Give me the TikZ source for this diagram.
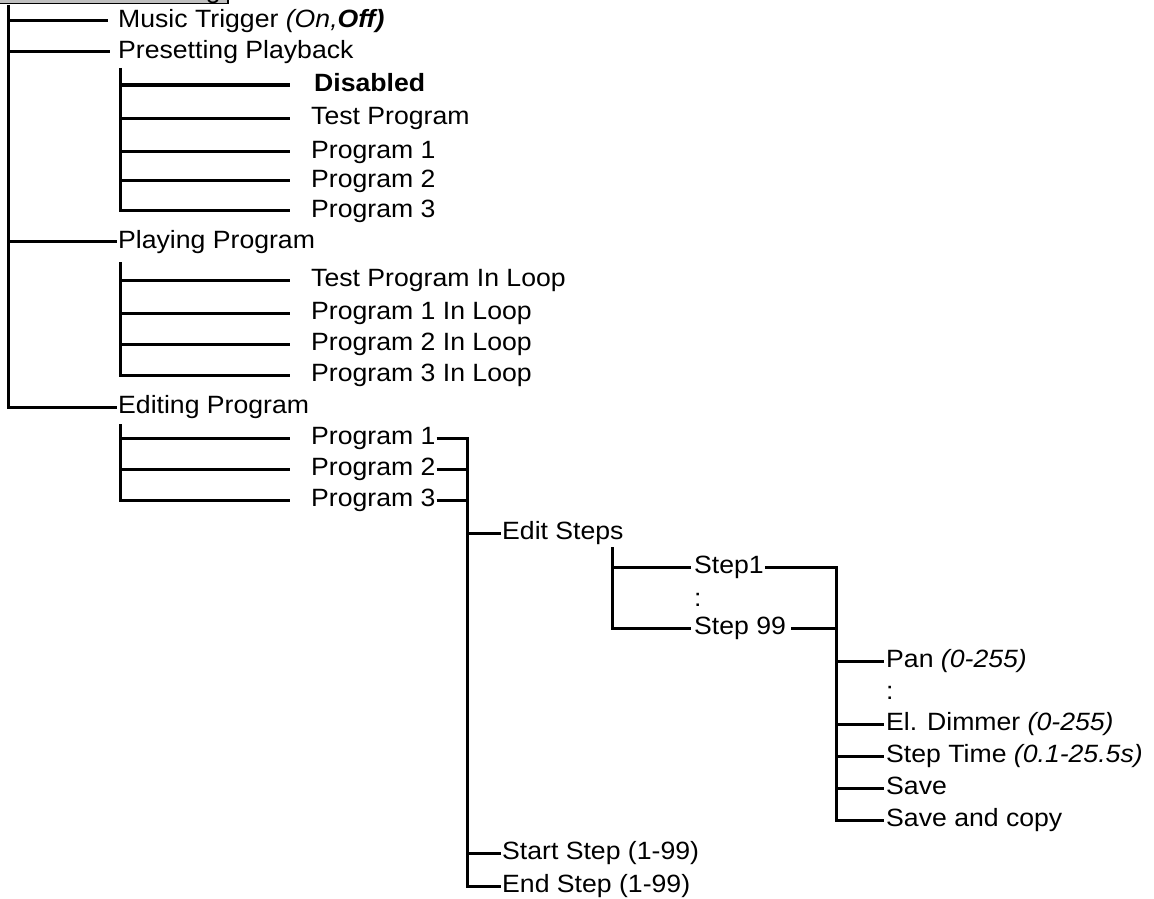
\documentclass[tikz,border=0pt]{standalone}
\usepackage{fontspec}
\setmainfont{Liberation Sans}[FakeStretch=1.065]
\begin{document}
\fontsize{25}{29}\selectfont
\begin{tikzpicture}[x=1pt,y=-1pt,
  lbl/.style={inner sep=0pt,anchor=mid west,font=\fontsize{25}{29}\selectfont},
  ln/.style={line width=3pt}]
\useasboundingbox (0,0) rectangle (1154,899);
% top (cut) header box
\draw[fill=black!25,line width=1.4pt] (-5,-40) rectangle (228,3.5);
\node[lbl,anchor=base east] (hdr) at (221,-1.5) {Setting};
% level 1
\node[lbl] (mt) at (118,20.7) {Music Trigger \textit{(On,\textbf{Off)}}};
\node[lbl] (pp) at (118,51.7) {Presetting Playback};
\node[lbl] (pl) at (118,241.7) {Playing Program};
\node[lbl] (ep) at (118,407) {Editing Program};
\coordinate (t0) at (8.5,5);
\draw[ln] (t0) |- ([xshift=-1pt]ep.mid west);
\draw[ln] (t0 |- mt.mid west) -- ([xshift=-10pt]mt.mid west);
\draw[ln] (t0 |- pp.mid west) -- ([xshift=-8pt]pp.mid west);
\draw[ln] (t0 |- pl.mid west) -- ([xshift=-1pt]pl.mid west);
% presetting children
\node[lbl] (dis) at (314,85) {\textbf{Disabled}};
\node[lbl] (tp) at (311,118.3) {Test Program};
\node[lbl] (pa1) at (311,151.7) {Program 1};
\node[lbl] (pa2) at (311,180.5) {Program 2};
\node[lbl] (pa3) at (311,210.7) {Program 3};
\coordinate (v1) at (120,68);
\draw[ln] (v1) |- ([xshift=-21pt]pa3.mid west);
\foreach \n in {tp,pa1,pa2}{\draw[ln] (v1 |- \n.mid west) -- ([xshift=-21pt]\n.mid west);}
\draw[ln] (v1 |- dis.mid west) -- ([xshift=-24pt]dis.mid west);
% playing children
\node[lbl] (lt) at (311,280) {Test Program In Loop};
\node[lbl] (l1) at (311,313) {Program 1 In Loop};
\node[lbl] (l2) at (311,344) {Program 2 In Loop};
\node[lbl] (l3) at (311,375) {Program 3 In Loop};
\coordinate (v2) at (120,262);
\draw[ln] (v2) |- ([xshift=-21pt]l3.mid west);
\foreach \n in {lt,l1,l2}{\draw[ln] (v2 |- \n.mid west) -- ([xshift=-21pt]\n.mid west);}
% editing children
\node[lbl] (e1) at (311,438) {Program 1};
\node[lbl] (e2) at (311,469) {Program 2};
\node[lbl] (e3) at (311,500) {Program 3};
\coordinate (v3) at (120,424);
\draw[ln] (v3) |- ([xshift=-21pt]e3.mid west);
\foreach \n in {e1,e2}{\draw[ln] (v3 |- \n.mid west) -- ([xshift=-21pt]\n.mid west);}
% program sub-menu
\node[lbl] (es) at (502,533) {Edit Steps};
\node[lbl] (ss) at (502,853) {Start Step (1-99)};
\node[lbl] (nd) at (502,886) {End Step (1-99)};
\coordinate (v4) at (467,0);
\draw[ln] ([xshift=1pt]e1.mid east) -| (v4 |- nd.mid west) -- ([xshift=-1pt]nd.mid west);
\draw[ln] ([xshift=1pt]e2.mid east) -- (v4 |- e2.mid east);
\draw[ln] ([xshift=1pt]e3.mid east) -- (v4 |- e3.mid east);
\draw[ln] (v4 |- es.mid west) -- ([xshift=-1pt]es.mid west);
\draw[ln] (v4 |- ss.mid west) -- ([xshift=-1pt]ss.mid west);
% steps
\node[lbl] (s1) at (694,567) {Step1};
\node[lbl] (sd) at (694,600) {:};
\node[lbl] (s99) at (694,628) {Step 99};
\coordinate (v5) at (612,547);
\draw[ln] (v5) |- ([xshift=-3pt]s99.mid west);
\draw[ln] (v5 |- s1.mid west) -- ([xshift=-3pt]s1.mid west);
% step parameters
\node[lbl] (pan) at (886,661) {Pan \textit{(0-255)}};
\node[lbl] (pd) at (886,693) {:};
\node[lbl] (eld) at (886,724) {El. Dimmer \textit{(0-255)}};
\node[lbl] (st) at (886,756) {Step Time \textit{(0.1-25.5s)}};
\node[lbl] (sv) at (886,788) {Save};
\node[lbl] (sc) at (886,820) {Save and copy};
\coordinate (v6) at (836,0);
\draw[ln] ([xshift=1pt]s1.mid east) -| (v6 |- sc.mid west) -- ([xshift=-2pt]sc.mid west);
\draw[ln] ([xshift=5pt]s99.mid east) -- (v6 |- s99.mid east);
\foreach \n in {pan,eld,st,sv}{\draw[ln] (v6 |- \n.mid west) -- ([xshift=-2pt]\n.mid west);}
\end{tikzpicture}
\end{document}
